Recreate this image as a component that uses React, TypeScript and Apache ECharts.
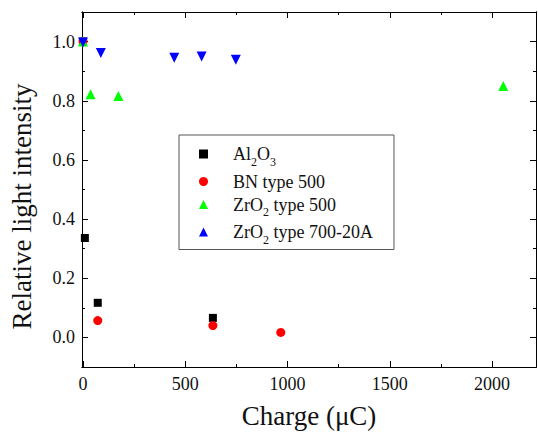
import React, { useEffect, useRef } from "react";
import * as echarts from "echarts";

const seriesNames = ["Al2O3", "BN type 500", "ZrO2 type 500", "ZrO2 type 700-20A"];
const al2o3: number[][] = [[0, 1.0], [9, 0.336], [72, 0.117], [635, 0.066]];
const bn500: number[][] = [[0, 1.0], [72, 0.057], [635, 0.040], [967, 0.017]];
const zro2_500: number[][] = [[0, 1.0], [37, 0.822], [173, 0.816], [2055, 0.85]];
const zro2_700: number[][] = [[0, 0.997], [87, 0.961], [446, 0.945], [580, 0.950], [747, 0.939]];

const xMajor = [0, 500, 1000, 1500, 2000];
const xMinor = [250, 750, 1250, 1750];
const yMajor = [0, 0.2, 0.4, 0.6, 0.8, 1.0];
const yMinor = [-0.1, 0.1, 0.3, 0.5, 0.7, 0.9, 1.1];

const FONT = "Liberation Serif";

const richNames: Record<string, string> = {
  "Al2O3": "{n|Al}{s|2}{n|O}{s|3}",
  "BN type 500": "{n|BN type 500}",
  "ZrO2 type 500": "{n|ZrO}{s|2}{n| type 500}",
  "ZrO2 type 700-20A": "{n|ZrO}{s|2}{n| type 700-20A}",
};

export default function App() {
  const ref = useRef<HTMLDivElement>(null);
  useEffect(() => {
    if (!ref.current) return;
    const chart = echarts.init(ref.current, null, { renderer: "svg" });
    const xMin = -5, xMax = 2215, yMin = -0.1, yMax = 1.1;
    const lineStyle = { color: "#000", width: 1 };
    const mkX = (pos: "bottom" | "top", vals: number[], len: number, labels: boolean) => ({
      type: "value",
      position: pos,
      min: xMin,
      max: xMax,
      splitLine: { show: false },
      axisLine: { show: true, onZero: false, lineStyle },
      axisTick: { show: true, inside: true, length: len, customValues: vals, lineStyle },
      axisLabel: labels
        ? {
            show: true,
            customValues: xMajor,
            fontFamily: FONT,
            fontSize: 18,
            color: "#111",
            margin: 8,
            formatter: (v: number) => String(Math.round(v)),
          }
        : { show: false },
    });
    const mkY = (pos: "left" | "right", vals: number[], len: number, labels: boolean) => ({
      type: "value",
      position: pos,
      min: yMin,
      max: yMax,
      splitLine: { show: false },
      axisLine: { show: true, onZero: false, lineStyle },
      axisTick: { show: true, inside: true, length: len, customValues: vals, lineStyle },
      axisLabel: labels
        ? {
            show: true,
            customValues: yMajor,
            fontFamily: FONT,
            fontSize: 18,
            color: "#111",
            margin: 7,
            formatter: (v: number) => v.toFixed(1),
          }
        : { show: false },
    });
    const xAxes: any[] = [
      {
        ...mkX("bottom", xMajor, 6, true),
        name: "Charge (\u03bcC)",
        nameLocation: "middle",
        nameGap: 35,
        nameTextStyle: { fontFamily: FONT, fontSize: 27, color: "#111" },
      },
      mkX("bottom", xMinor, 3, false),
      mkX("top", xMajor, 6, false),
      mkX("top", xMinor, 3, false),
    ];
    const yAxes: any[] = [
      {
        ...mkY("left", yMajor, 6, true),
        name: "Relative light intensity",
        nameLocation: "middle",
        nameGap: 47,
        nameTextStyle: { fontFamily: FONT, fontSize: 27, color: "#111", padding: [0, 34, 0, 0] },
      },
      mkY("left", yMinor, 3, false),
      mkY("right", yMajor, 6, false),
      mkY("right", yMinor, 3, false),
    ];
    const datasets = [al2o3, bn500, zro2_500, zro2_700];
    const symbols = ["rect", "circle", "triangle", "triangle"];
    const sizes = [8, 9, 10, 10];
    const rotates = [0, 0, 0, 180];
    const colors = ["#000000", "#ff0000", "#00ff00", "#0000ff"];
    chart.setOption({
      animation: false,
      textStyle: { fontFamily: FONT },
      grid: { left: 82, top: 12, right: 2, bottom: 65 },
      xAxis: xAxes,
      yAxis: yAxes,
      legend: {
        orient: "vertical",
        left: 179,
        top: 135,
        data: seriesNames.map((name, i) => ({
          name,
          icon: symbols[i],
          itemStyle: { color: colors[i], opacity: 1 },
        })),
        itemWidth: 9,
        itemHeight: 9,
        itemGap: 5,
        padding: [10, 21, 4, 20],
        borderColor: "#555",
        borderWidth: 1,
        borderRadius: 0,
        backgroundColor: "#fff",
        formatter: (name: string) => richNames[name] || name,
        textStyle: {
          fontFamily: FONT,
          fontSize: 18,
          color: "#111",
          padding: [0, 0, 0, 20],
          rich: {
            n: { fontFamily: FONT, fontSize: 18, color: "#111", lineHeight: 19, verticalAlign: "middle" },
            s: { fontFamily: FONT, fontSize: 12, color: "#111", lineHeight: 19, verticalAlign: "bottom", padding: [0, 0, -4, 0] },
          },
        },
      },
      series: seriesNames.map((name, i) => ({
        name,
        type: "scatter",
        xAxisIndex: 0,
        yAxisIndex: 0,
        data: datasets[i],
        symbol: symbols[i],
        symbolSize: sizes[i],
        symbolRotate: rotates[i],
        itemStyle: { color: colors[i], opacity: 1 },
      })),
    });
    return () => chart.dispose();
  }, []);
  return <div ref={ref} style={{ width: 538, height: 434, position: "absolute", left: 0, top: 0 }} />;
}
